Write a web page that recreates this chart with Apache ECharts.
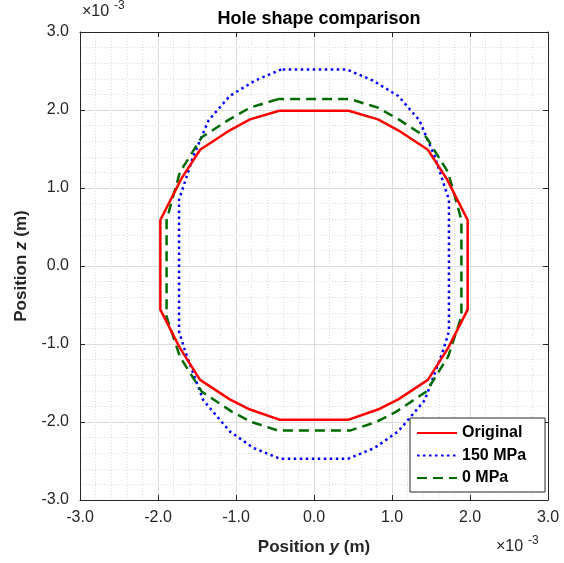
<!DOCTYPE html>
<html>
<head>
<meta charset="utf-8">
<script src="https://cdn.jsdelivr.net/npm/echarts@6/dist/echarts.min.js"></script>
<style>html,body{margin:0;padding:0;background:#fff}#c{width:564px;height:563px}</style>
</head>
<body>
<div id="c"></div>
<script>
// values in units of 1e-3 m
var originalY = [-0.445,-0.82,-1.08,-1.46,-1.70,-1.97,-1.97,-1.72,-1.46,-1.08,-0.82,-0.445,0.445,0.82,1.08,1.46,1.72,1.97,1.97,1.70,1.46,1.08,0.82,0.445,-0.445];
var originalZ = [1.99,1.88,1.74,1.49,1.12,0.59,-0.56,-1.05,-1.46,-1.71,-1.84,-1.97,-1.97,-1.84,-1.71,-1.46,-1.05,-0.56,0.59,1.12,1.49,1.74,1.88,1.99,1.99];
var mpa150Y = [-0.42,-0.75,-1.08,-1.35,-1.55,-1.73,-1.73,-1.65,-1.42,-1.08,-0.78,-0.44,0.44,0.78,1.08,1.42,1.65,1.73,1.73,1.55,1.35,1.08,0.75,0.42,-0.42];
var mpa150Z = [2.52,2.38,2.18,1.87,1.40,0.85,-0.84,-1.10,-1.72,-2.12,-2.33,-2.47,-2.47,-2.33,-2.12,-1.72,-1.10,-0.84,0.85,1.40,1.87,2.18,2.38,2.52,2.52];
var mpa0Y = [-0.46,-0.82,-1.10,-1.44,-1.72,-1.89,-1.89,-1.72,-1.44,-1.05,-0.80,-0.46,0.46,0.80,1.05,1.44,1.72,1.89,1.89,1.72,1.44,1.10,0.82,0.46,-0.46];
var mpa0Z = [2.14,2.03,1.87,1.65,1.20,0.59,-0.65,-1.16,-1.61,-1.87,-2.00,-2.11,-2.11,-2.00,-1.87,-1.61,-1.16,-0.65,0.59,1.20,1.65,1.87,2.03,2.14,2.14];
var seriesNames = ['Original','150 MPa','0 MPa'];
var tickValues = [-3,-2,-1,0,1,2,3];

function pairs(a,b){return a.map(function(v,i){return [v,b[i]];});}

var chart = echarts.init(document.getElementById('c'), null, {renderer:'canvas'});
var font = 'Liberation Sans, Arial, Helvetica, sans-serif';
var fmt = function(v){return v.toFixed(1);};
var axisCommon = {
  type:'value', min:tickValues[0], max:tickValues[tickValues.length-1], interval:1,
  axisLine:{show:true, onZero:false, lineStyle:{color:'#262626', width:1}},
  axisTick:{show:true, inside:true, length:5, lineStyle:{color:'#262626'}},
  minorTick:{show:false, splitNumber:5},
  splitLine:{show:true, lineStyle:{color:'#dcdcdc', width:1}},
  minorSplitLine:{show:true, lineStyle:{color:'#dadada', width:1, type:[1,2]}},
  axisLabel:{fontFamily:font, fontSize:16, color:'#262626'}
};
function clone(o){return JSON.parse(JSON.stringify(o));}
var richName = {rich:{b:{fontFamily:font,fontSize:17,fontWeight:'bold',color:'#262626'},i:{fontFamily:font,fontSize:17,fontWeight:'bold',fontStyle:'italic',color:'#262626'}}};
var xB = clone(axisCommon); xB.position='bottom'; xB.axisLabel.formatter=fmt; xB.axisLabel.margin=10;
xB.name='{b|Position }{i|y}{b| (m)}'; xB.nameLocation='middle'; xB.nameGap=39;
xB.nameTextStyle=richName;
var xT = clone(axisCommon); xT.position='top'; xT.axisLabel={show:false}; xT.splitLine={show:false}; xT.minorSplitLine={show:false};
var yL = clone(axisCommon); yL.position='left'; yL.axisLabel.formatter=fmt; yL.axisLabel.margin=11;
yL.name='{b|Position }{i|z}{b| (m)}'; yL.nameLocation='middle'; yL.nameGap=50; yL.nameRotate=90;
yL.nameTextStyle=richName;
var yR = clone(axisCommon); yR.position='right'; yR.axisLabel={show:false}; yR.splitLine={show:false}; yR.minorSplitLine={show:false};

chart.setOption({
  animation:false,
  backgroundColor:'#ffffff',
  title:{text:'Hole shape comparison', left:314, top:5, textAlign:'center',
    textStyle:{fontFamily:font, fontSize:18, fontWeight:'bold', color:'#000'}},
  grid:{left:80, right:16, top:32, bottom:63, containLabel:false},
  xAxis:[xB, xT],
  yAxis:[yL, yR],
  legend:{
    data:seriesNames, orient:'vertical', left:410, top:418,
    backgroundColor:'#fff', borderColor:'#262626', borderWidth:1,
    padding:[7,19,6,6], itemGap:6.5, itemWidth:40, itemHeight:16,
    itemStyle:{opacity:0},
    textStyle:{fontFamily:font, fontSize:16, fontWeight:'bold', color:'#000'}
  },
  graphic:[
    {type:'text', left:82, top:4, style:{text:'×10', font:'16px '+font, fill:'#262626'}},
    {type:'text', left:114, top:0, style:{text:'-3', font:'12px '+font, fill:'#262626'}},
    {type:'text', left:496, top:539, style:{text:'×10', font:'16px '+font, fill:'#262626'}},
    {type:'text', left:528, top:535, style:{text:'-3', font:'12px '+font, fill:'#262626'}}
  ],
  series:[
    {name:seriesNames[0], type:'line', data:pairs(originalY, originalZ), showSymbol:false, symbol:'none',
     lineStyle:{color:'#ff0000', width:2.5, type:'solid'}, itemStyle:{color:'#ff0000'}, z:3},
    {name:seriesNames[1], type:'line', data:pairs(mpa150Y, mpa150Z), showSymbol:false, symbol:'none',
     lineStyle:{color:'#0000ff', width:2.5, type:[2.5,3.5]}, itemStyle:{color:'#0000ff'}, z:2},
    {name:seriesNames[2], type:'line', data:pairs(mpa0Y, mpa0Z), showSymbol:false, symbol:'none',
     lineStyle:{color:'#006b00', width:2.5, type:[10,6]}, itemStyle:{color:'#006b00'}, z:2}
  ]
});
</script>
</body>
</html>
